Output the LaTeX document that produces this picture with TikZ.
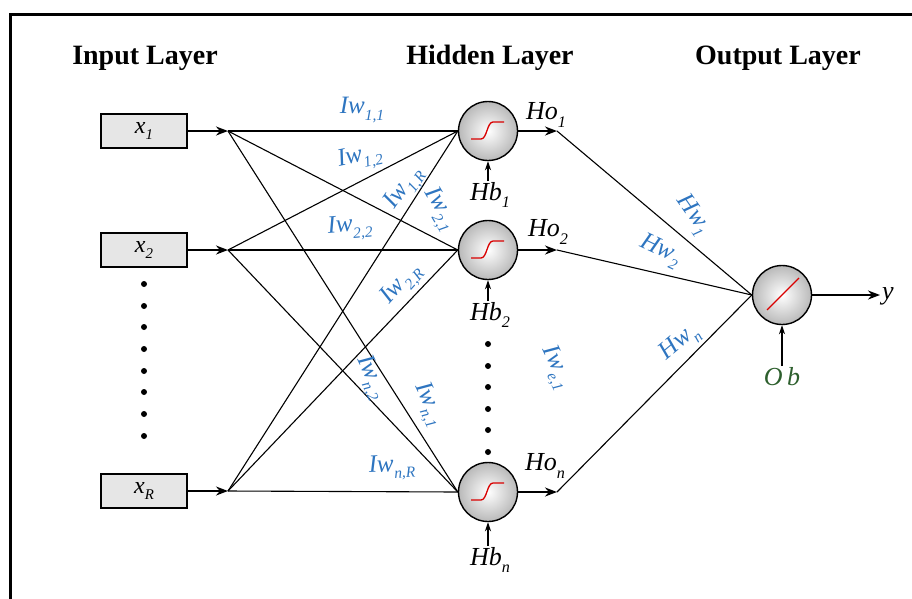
\documentclass[tikz,border=0pt]{standalone}
\usepackage{fontspec}
\setmainfont{Liberation Serif}
\usetikzlibrary{arrows.meta}
\definecolor{wblue}{RGB}{46,117,192}
\definecolor{obgreen}{RGB}{45,95,45}
\definecolor{boxgray}{RGB}{230,230,230}
\newcommand{\lb}[2]{\textit{#1}\raisebox{-0.6ex}{\scalebox{0.62}{\itshape #2}}}
\begin{document}
\begin{tikzpicture}[x=1pt,y=-1pt,
  inbox/.style={draw,line width=2.2pt,fill=boxgray,minimum width=86pt,minimum height=34pt,inner sep=0pt,font=\fontsize{24}{26}\selectfont},
  neuron/.style={circle,draw,line width=1.4pt,minimum size=59pt,inner sep=0pt,inner color=white,outer color=gray!55},
  conn/.style={line width=1.1pt},
  arr/.style={line width=1.8pt,-{Stealth[length=12pt,width=9pt]}},
  barr/.style={line width=1.2pt,-{Stealth[length=9pt,width=6pt]}},
  title/.style={font=\fontsize{28}{30}\selectfont\bfseries},
  wlab/.style={text=wblue,font=\fontsize{25}{27}\selectfont,inner sep=1pt},
  hlab/.style={font=\fontsize{26}{28}\selectfont,inner sep=1pt},
  dotm/.style={circle,fill,inner sep=0pt,minimum size=6pt},
  sigm/.pic={\draw[red!85!black,line width=1.3pt] (-17,8) -- (-7,8) .. controls (-1,8) and (-1,-9) .. (5,-9) -- (16,-9);},
  lin/.pic={\draw[red!85!black,line width=1.3pt] (-15,15) -- (17,-17);}
]
\useasboundingbox (0,0) rectangle (912,598);
% frame
\draw[line width=3pt] (10.5,600) -- (10.5,14.5) -- (914,14.5);

% titles
\node[title] (t1) at (145,58) {Input Layer};
\node[title] (t2) at (490,58) {Hidden Layer};
\node[title] (t3) at (778,58) {Output Layer};

% input boxes
\node[inbox] (x1) at (144,131) {\lb{x}{1}};
\node[inbox] (x2) at (144,250) {\lb{x}{2}};
\node[inbox] (xR) at (144,491) {\lb{x}{R}};
\coordinate (j1) at (228,131);
\coordinate (j2) at (228,250);
\coordinate (jR) at (228,491);
\draw[arr] (x1.east) -- (j1);
\draw[arr] (x2.east) -- (j2);
\draw[arr] (xR.east) -- (jR);

\foreach \i/\y in {1/284,2/306,3/327,4/349,5/371,6/392,7/414,8/436}
  \node[dotm] (di\i) at (144,\y) {};

% hidden neurons
\node[neuron] (h1) at (488,131) {};
\node[neuron] (h2) at (488,250) {};
\node[neuron] (hn) at (488,492) {};
\path (h1) pic {sigm};
\path (h2) pic {sigm};
\path (hn) pic {sigm};

\foreach \i/\y in {1/344,2/366,3/387,4/409,5/430,6/452}
  \node[dotm] (dh\i) at (488,\y) {};

% input connections
\foreach \j in {j1,j2,jR}
  \foreach \h in {h1,h2,hn}
    \draw[conn] (\j) -- (\h.west);

% output neuron
\node[neuron] (o) at (782,295) {};
\path (o) pic {lin};
\coordinate (yend) at (880,295);
\draw[arr] (o.east) -- (yend);
\node[hlab,anchor=west] (ylab) at (881,296) {\textit{y}};

\coordinate (ho1) at (557,131);
\coordinate (ho2) at (557,250);
\coordinate (hon) at (557,492);
\draw[arr] (h1.east) -- (ho1);
\draw[arr] (h2.east) -- (ho2);
\draw[arr] (hn.east) -- (hon);
\draw[conn] (ho1) -- (o.west);
\draw[conn] (ho2) -- (o.west);
\draw[conn] (hon) -- (o.west);

% biases
\node[hlab,anchor=north] (hb1) at (490,181) {\lb{Hb}{1}};
\node[hlab,anchor=north] (hb2) at (490,301) {\lb{Hb}{2}};
\node[hlab,anchor=north] (hbn) at (490,546) {\lb{Hb}{n}};
\draw[barr] (hb1.north -| h1) -- (h1.south);
\draw[barr] (hb2.north -| h2) -- (h2.south);
\draw[barr] (hbn.north -| hn) -- (hn.south);
\node[hlab,anchor=north,text=obgreen] (ob) at (782,366) {\textit{O\,b}};
\draw[barr] (ob.north -| o) -- (o.south);

% hidden outputs
\node[hlab] (lho1) at (546,115) {\lb{Ho}{1}};
\node[hlab] (lho2) at (548,232) {\lb{Ho}{2}};
\node[hlab] (lhon) at (545,466) {\lb{Ho}{n}};

% input weights
\node[wlab] (w11) at (362,110) {\lb{Iw}{1,1}};
\node[wlab,rotate=12] (w12) at (360,158) {\lb{Iw}{1,2}};
\node[wlab,rotate=55] (w1R) at (405,189) {\lb{Iw}{1,R}};
\node[wlab,rotate=-60] (w21) at (439,210) {\lb{Iw}{2,1}};
\node[wlab,rotate=5] (w22) at (350,228) {\lb{Iw}{2,2}};
\node[wlab,rotate=48] (w2R) at (402,285) {\lb{Iw}{2,R}};
\node[wlab,rotate=-65] (wn2) at (370,378) {\lb{Iw}{n,2}};
\node[wlab,rotate=-65] (wn1) at (428,405) {\lb{Iw}{n,1}};
\node[wlab,rotate=3] (wnR) at (392,468) {\lb{Iw}{n,R}};
\node[wlab,rotate=-65] (we1) at (555,368) {\lb{Iw}{e,1}};

% hidden weights
\node[wlab,rotate=-55] (hw1) at (693,215) {\lb{Hw}{1}};
\node[wlab,rotate=-25] (hw2) at (660,251) {\lb{Hw}{2}};
\node[wlab,rotate=40] (hwn) at (680,343) {\lb{Hw}{n}};
\end{tikzpicture}
\end{document}
